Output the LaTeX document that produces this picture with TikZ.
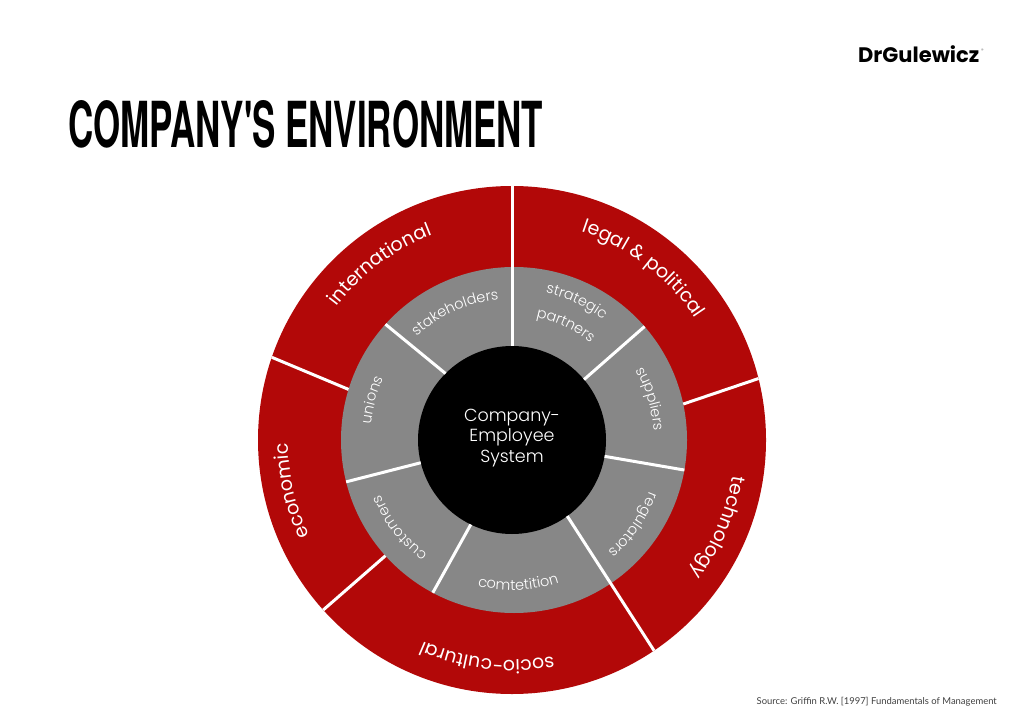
\documentclass[tikz,border=0pt]{standalone}
\usepackage{fontspec}
\setmainfont{Poppins}
\newfontfamily\lightfont{Poppins Light}
\newfontfamily\headfont{TeX Gyre Heros}
\newfontfamily\sourcefont{Lato}
\usetikzlibrary{positioning,decorations.text}
\definecolor{ringred}{HTML}{B20808}
\definecolor{ringgray}{HTML}{878787}
\tikzstyle{ring}=[%
	circle,
	inner sep=0pt,
	outer sep=0pt,
	]
\tikzstyle{divider}=[draw=white,line width=3pt]
\newcommand{\bandFont}{\fontsize{19}{19}\selectfont\color{white}}
\newcommand{\taskFont}{\lightfont\fontsize{14.5}{14.5}\selectfont\color{white}}
% radius, middle angle, text; clockwise, letters stand outwards
\newcommand{\arcLabel}[3]{%
	\path[decorate,decoration={text along path,text align=center,text={#3}}]
		([shift={(#2+70:#1)}]core.center) arc[start angle=#2+70,end angle=#2-70,radius=#1];}
\begin{document}
\begin{tikzpicture}[x=1pt,y=1pt]
	\useasboundingbox (0,0) rectangle (1024,724);

	\node[ring,fill=ringred,minimum size=508pt](env) at (512,284){};
	\node[ring,fill=ringgray,minimum size=346pt](task) at (514,284){};
	\node[ring,fill=black,minimum size=188pt](core) at (512,284){};
	\node[inner sep=0pt,align=center,text=white,font=\lightfont\fontsize{17.5}{20.5}\selectfont,yshift=2pt](corename) at (core.center){Company-\\Employee\\System};

	\draw[divider] (env.90) -- (core.90);
	\draw[divider] (env.-56.4) -- (core.-54.3);
	\draw[divider] (env.14.4) -- (task.12.5);
	\draw[divider] (env.161.8) -- (task.163.5);
	\draw[divider] (env.222) -- (task.222.9);
	\draw[divider] (task.138.6) -- (core.135.4);
	\draw[divider] (task.41.6) -- (core.40.8);
	\draw[divider] (task.-10.2) -- (core.-10.7);
	\draw[divider] (task.242.2) -- (core.244.5);
	\draw[divider] (task.194.8) -- (core.194.9);

	\arcLabel{220}{127}{|\bandFont|international}
	\arcLabel{220}{52.5}{|\bandFont|legal {\&} political}
	\arcLabel{223}{-23}{|\bandFont|technology}
	\arcLabel{220}{-96.5}{|\bandFont|socio-cultural}
	\arcLabel{224}{193}{|\bandFont|economic}

	\arcLabel{141}{114}{|\taskFont|stakeholders}
	\arcLabel{142}{164}{|\taskFont|unions}
	\arcLabel{151}{65}{|\taskFont|strategic}
	\arcLabel{125}{65}{|\taskFont|partners}
	\arcLabel{142}{16.5}{|\taskFont|suppliers}
	\arcLabel{147}{-35}{|\taskFont|regulators}
	\arcLabel{142}{-142}{|\taskFont|customers}
	% this one runs the other way round
	\path[decorate,decoration={text along path,text align=center,text={|\taskFont|comtetition}}]
		([shift={(202.5:150)}]core.center) arc[start angle=202.5,end angle=342.5,radius=150];

	\node[inner sep=0pt,anchor=south west](title) at (68,576){\resizebox{475pt}{47pt}{\headfont\bfseries COMPANY'S ENVIRONMENT}};
	\node[inner sep=0pt,anchor=base west,font=\fontsize{21}{21}\selectfont\bfseries](logo) at (858,661){DrGulewicz};
	\node[inner sep=0pt,font=\fontsize{5}{5}\selectfont,text=gray,right=1.5pt of logo.north east,yshift=-5pt](regmark){®};
	\node[inner sep=0pt,anchor=base east,text=black!75,font=\sourcefont\fontsize{9.45}{10}\selectfont](source) at (997,20){Source: Griffin R.W. [1997] Fundamentals of Management};
\end{tikzpicture}
\end{document}
